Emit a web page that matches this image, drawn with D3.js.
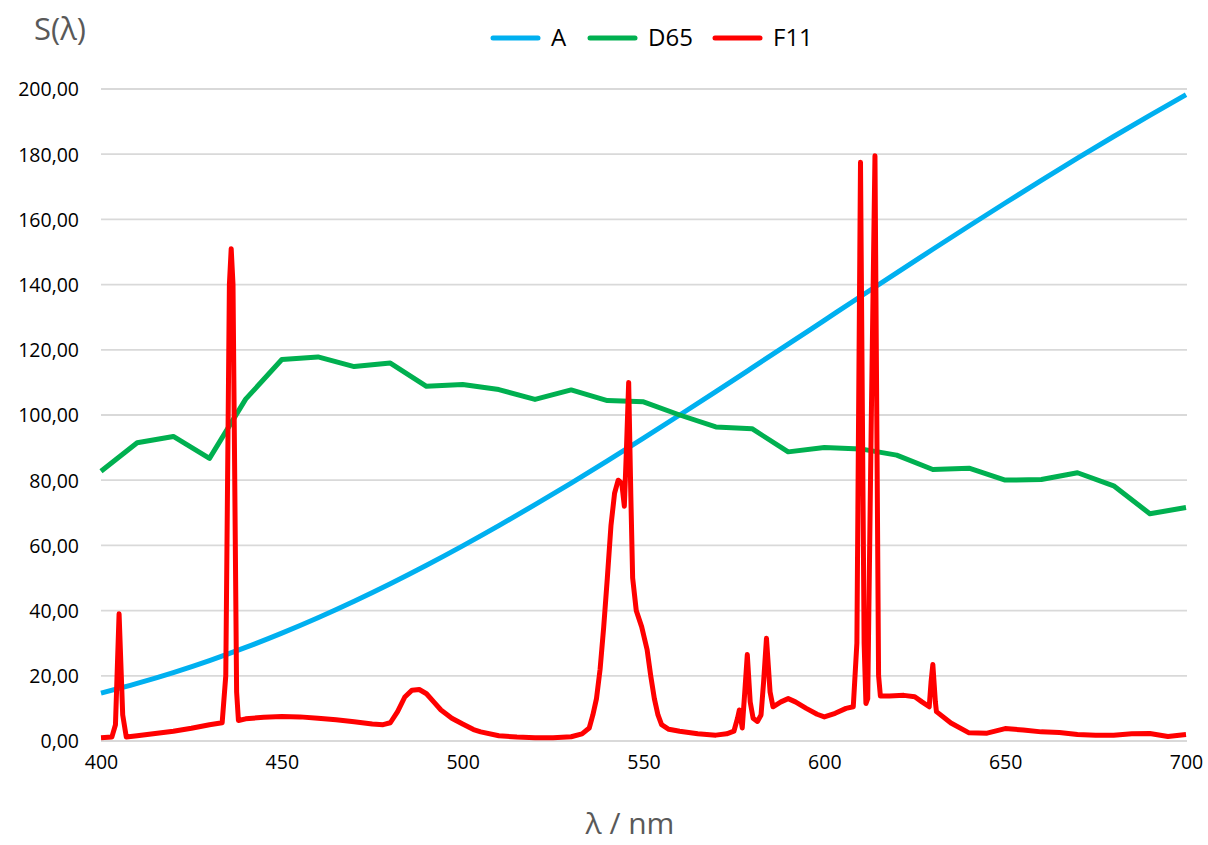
<!DOCTYPE html>
<html><head><meta charset="utf-8">
<script src="https://cdn.jsdelivr.net/npm/d3@7"></script>
<style>body{margin:0;background:#fff}svg{display:block}text{font-family:"Open Sans","Noto Sans",sans-serif}</style>
</head><body><svg id="c" width="1208" height="845"></svg>
<script>
const seriesNames = ["A","D65","F11"];
const seriesColors = ["#00b0f0","#00b050","#ff0000"];
const xTicks = [400,450,500,550,600,650,700];
const yTicks = [0,20,40,60,80,100,120,140,160,180,200];
const wl10 = [400,410,420,430,440,450,460,470,480,490,500,510,520,530,540,550,560,570,580,590,600,610,620,630,640,650,660,670,680,690,700];
const valuesA = [14.71,17.68,20.99,24.67,28.70,33.09,37.81,42.87,48.24,53.91,59.86,66.06,72.50,79.13,85.95,92.91,100.00,107.18,114.44,121.73,129.04,136.35,143.62,150.84,157.98,165.03,171.96,178.77,185.43,191.93,198.26];
const valuesD65 = [82.75,91.49,93.43,86.68,104.86,117.01,117.81,114.86,115.92,108.81,109.35,107.80,104.79,107.69,104.41,104.05,100.00,96.33,95.79,88.69,90.01,89.60,87.70,83.29,83.70,80.03,80.21,82.28,78.28,69.72,71.61];
const wlF11 = [400,403,404,405,406,407,410,415,420,425,430,433.5,434.5,435.5,436,436.5,437.5,438,440,445,450,455,460,465,470,475,478,480,482,484,486,488,490,492,494,497,500,503,505,510,515,520,525,530,533,535,536,537,538,539,540,541,542,543,544,544.7,545.3,545.9,546.5,547,548,549.5,551,552,553,554,555,557,560,565,570,573,575,576,576.5,577.3,578,578.7,579.5,580.3,581.5,582.5,583.2,584,585,585.8,588,590,592,595,598,600,603,606,608,609,610,611,611.5,612,613,614,615,615.5,618,622,625,627,629,629.5,630,630.7,631,635,640,645,650,655,660,665,670,675,680,685,690,695,700];
const valuesF11 = [1.0,1.2,5,39,8,1.2,1.6,2.3,3.0,3.9,5.0,5.6,20,140,151,140,15,6.3,6.8,7.3,7.5,7.4,7.0,6.5,5.9,5.2,5.0,5.6,9,13.5,15.6,15.8,14.5,12,9.5,7.0,5.2,3.5,2.8,1.6,1.2,1.0,1.0,1.3,2.2,4,8,13,22,35,50,66,76,80,79,72,90,110,75,50,40,35,28,20,13,8,5,3.6,3.0,2.2,1.8,2.2,3.0,7,9.5,4,15,26.5,12,7,6,8,18,31.5,15,10.5,12,13,12,10,8.2,7.4,8.5,10,10.5,30,177.5,30,11.5,13,100,179.5,20,13.8,13.8,14,13.6,12,10.5,18,23.5,12,9,5.5,2.5,2.4,3.8,3.4,2.8,2.6,2.0,1.8,1.8,2.2,2.3,1.4,2.0];
const yTickLabels = yTicks.map(v => v.toFixed(2).replace(".", ","));

const svg = d3.select("#c");
const x = d3.scaleLinear().domain([400,700]).range([101,1186]);
const y = d3.scaleLinear().domain([0,200]).range([741,89]);

// gridlines
svg.append("g").selectAll("line").data(yTicks).join("line")
  .attr("x1",101).attr("x2",1187).attr("y1",d=>y(d)).attr("y2",d=>y(d))
  .attr("stroke","#d9d9d9").attr("stroke-width",1.8);

// axes
const yAxis = d3.axisLeft(y).tickValues(yTicks).tickSize(0).tickPadding(0)
  .tickFormat((d,i)=>yTickLabels[i]);
const gy = svg.append("g").attr("transform","translate(79,0)").call(yAxis);
gy.select(".domain").remove();
gy.selectAll("text").attr("font-size",19.5).attr("fill","#000").attr("font-family","'Open Sans',sans-serif").attr("dy","0.35em");

const xAxis = d3.axisBottom(x).tickValues(xTicks).tickSize(0).tickPadding(0).tickFormat(d3.format("d"));
const gx = svg.append("g").attr("transform","translate(0,762)").call(xAxis);
gx.select(".domain").remove();
gx.selectAll("text").attr("font-size",19.5).attr("fill","#000").attr("font-family","'Open Sans',sans-serif").attr("dy","0.35em");

// lines
const lineLin = d3.line().x(d=>x(d[0])).y(d=>y(d[1]));
const lineSmooth = d3.line().x(d=>x(d[0])).y(d=>y(d[1])).curve(d3.curveMonotoneX);
const dataA = wl10.map((w,i)=>[w,valuesA[i]]);
const dataD = wl10.map((w,i)=>[w,valuesD65[i]]);
const dataF = wlF11.map((w,i)=>[w,valuesF11[i]]);
svg.append("path").datum(dataA).attr("d",lineSmooth).attr("fill","none").attr("stroke",seriesColors[0]).attr("stroke-width",5).attr("stroke-linejoin","round");
svg.append("path").datum(dataD).attr("d",lineLin).attr("fill","none").attr("stroke",seriesColors[1]).attr("stroke-width",5).attr("stroke-linejoin","round");
svg.append("path").datum(dataF).attr("d",lineLin).attr("fill","none").attr("stroke",seriesColors[2]).attr("stroke-width",5).attr("stroke-linejoin","round");

// legend
const legX = [493,590,715];
const lg = svg.append("g");
seriesNames.forEach((n,i)=>{
  lg.append("line").attr("x1",legX[i]).attr("x2",legX[i]+45).attr("y1",38).attr("y2",38)
    .attr("stroke",seriesColors[i]).attr("stroke-width",5).attr("stroke-linecap","round");
  lg.append("text").attr("x",legX[i]+58).attr("y",38).attr("dy","0.35em").attr("font-size",24).attr("fill","#000").text(n);
});

// axis titles
svg.append("text").attr("x",60).attr("y",29).attr("dy","0.35em").attr("text-anchor","middle").attr("font-size",31).attr("fill","#595959").text("S(λ)");
svg.append("text").attr("x",630).attr("y",823).attr("dy","0.35em").attr("text-anchor","middle").attr("font-size",30).attr("fill","#595959").text("λ / nm");
</script></body></html>
